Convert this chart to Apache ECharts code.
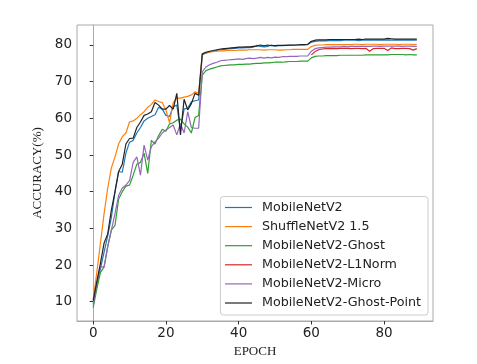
<!DOCTYPE html>
<html>
<head>
<meta charset="utf-8">
<script src="https://cdn.jsdelivr.net/npm/echarts@6/dist/echarts.min.js"></script>
<style>
	html, body { margin: 0; padding: 0; background: #fff; }
	#main { width: 477px; height: 364px; }
</style>
</head>
<body>
<div id="main"></div>
<script>
// accuracy per epoch (0..89)
const names = ['MobileNetV2', 'ShuffleNetV2 1.5', 'MobileNetV2-Ghost', 'MobileNetV2-L1Norm', 'MobileNetV2-Micro', 'MobileNetV2-Ghost-Point'];
const colors = ['#1f77b4', '#ff7f0e', '#2ca02c', '#d62728', '#9467bd', '#222222'];

const mobilenet = [
	9.5, 14.5, 19, 23.5, 28, 33, 40, 45.5, 45.3, 50.5,
	53.5, 54, 56, 57.5, 59.3, 60, 60.5, 61, 63, 62.5,
	60.8, 60.5, 63.2, 63.6, 57, 62.5, 62.8, 64.5, 64.8, 65,
	77.3, 77.8, 78.1, 78.3, 78.5, 78.7, 78.8, 78.9, 79, 79.1,
	79.2, 79.2, 79.3, 79.3, 79.4, 79.9, 79.6, 79.5, 79.6, 80,
	79.7, 79.8, 79.8, 79.9, 79.9, 79.9, 80, 80, 80, 80.1,
	80.8, 81, 81.1, 81.1, 81.1, 81.2, 81.2, 81.2, 81.2, 81.3,
	81.3, 81.3, 81.3, 81.2, 81.3, 81.3, 81.3, 81.3, 81.3, 81.3,
	81.3, 81.4, 81.3, 81.3, 81.3, 81.3, 81.3, 81.3, 81.3, 81.3
];
const shufflenet = [
	10.5, 18, 26, 34, 41, 46.5, 49.5, 53, 55, 56,
	59, 59.3, 60, 61, 61.8, 63, 63.8, 65, 64.6, 64.3,
	62.3, 58.8, 64.2, 65.6, 65.5, 65.8, 66, 66.4, 67.2, 66.8,
	77.6, 77.9, 78.1, 78.2, 78.3, 78.4, 78.4, 78.5, 78.5, 78.5,
	78.6, 78.6, 78.6, 78.7, 78.7, 78.7, 78.7, 78.6, 78.7, 78.7,
	78.7, 78.6, 78.6, 78.7, 78.7, 78.8, 78.8, 78.8, 78.8, 78.8,
	79.6, 79.9, 80, 80, 80.1, 80.1, 80.1, 80.1, 80.1, 80.1,
	80.1, 80.1, 80.2, 80.2, 80.1, 80.2, 80.2, 80.2, 80.2, 80.1,
	80.2, 80.2, 80.2, 80.2, 80.1, 80.2, 80.2, 80.2, 80.1, 80.2
];
const ghost = [
	8.4, 13.5, 18, 19.5, 25, 29.5, 30.8, 38, 40, 41.5,
	41.8, 44.5, 47.5, 48, 50.5, 45, 54, 53, 55.3, 57,
	56.5, 58.5, 58.8, 59.5, 59.8, 58.5, 57.6, 56, 60.2, 60.8,
	71.8, 73, 73.4, 73.7, 74, 74.3, 74.4, 74.5, 74.6, 74.6,
	74.7, 74.7, 74.8, 74.8, 74.9, 75, 75, 75.1, 75.1, 75.2,
	75.3, 75.3, 75.3, 75.4, 75.5, 75.5, 75.5, 75.6, 75.6, 75.6,
	76.5, 76.9, 77, 77, 77.1, 77.1, 77.1, 77.1, 77.2, 77.2,
	77.2, 77.2, 77.2, 77.2, 77.2, 77.3, 77.3, 77.3, 77.3, 77.3,
	77.3, 77.3, 77.4, 77.4, 77.4, 77.4, 77.3, 77.4, 77.3, 77.3
];
// L1Norm curve only starts at epoch 60
const l1normStart = 60;
const l1norm = [
	77.3, 78.2, 78.7, 78.9, 79, 79, 79.1, 79, 79.1, 79.1,
	79.1, 79, 79.1, 79.1, 79, 79.1, 78.3, 79, 79.1, 79.1,
	79.1, 78.5, 79.2, 79, 79, 79.1, 79.1, 79, 78.6, 79
];
const micro = [
	9, 15, 19.5, 19.5, 25, 29.5, 34, 39, 41, 41.8,
	43, 48, 49.5, 44.5, 52.7, 48.6, 52.3, 53.6, 54.6, 56,
	56.8, 57.5, 58.2, 55.5, 58.6, 56, 61.8, 57.5, 57.3, 57.3,
	72.7, 74, 74.6, 75, 75.3, 75.7, 75.8, 75.9, 76, 76.1,
	76.2, 76.1, 76.3, 76.4, 76.3, 76.4, 76.6, 76.4, 76.6, 76.5,
	76.7, 76.6, 76.8, 76.8, 76.9, 76.9, 76.9, 77, 77, 77,
	78.3, 79, 79.2, 79.3, 79.4, 79.4, 79.5, 79.5, 79.5, 79.6,
	79.5, 79.6, 79.6, 79.6, 79.6, 79.6, 79.6, 79.7, 79.7, 79.6,
	79.7, 79.7, 79.7, 79.7, 79.7, 79.6, 79.7, 79.7, 79.6, 79.6
];
const ghostPoint = [
	10.3, 15.5, 20.5, 26, 28.5, 35, 40, 45.5, 47.5, 53,
	54.5, 54.6, 57.5, 59, 60.8, 61.2, 61.8, 64.3, 63.6, 62.5,
	62.5, 63.5, 62.5, 66.8, 55.5, 65.2, 62.3, 64, 66.8, 66.3,
	77.6, 78, 78.3, 78.5, 78.7, 78.9, 79, 79.1, 79.2, 79.3,
	79.4, 79.4, 79.5, 79.5, 79.6, 79.7, 80, 79.8, 80, 79.8,
	79.8, 79.9, 79.9, 79.9, 80, 80, 80, 80.1, 80.1, 80.2,
	81, 81.3, 81.4, 81.4, 81.4, 81.5, 81.5, 81.5, 81.5, 81.5,
	81.5, 81.5, 81.5, 81.6, 81.5, 81.6, 81.6, 81.6, 81.6, 81.6,
	81.6, 81.8, 81.7, 81.6, 81.6, 81.6, 81.6, 81.6, 81.6, 81.6
];

const xTicks = [0, 20, 40, 60, 80];
const yTicks = [10, 20, 30, 40, 50, 60, 70, 80];

function pairs(values, start) {
	return values.map(function (v, i) {
		return [i + start, v];
	});
}

const seriesData = [
	pairs(mobilenet, 0),
	pairs(shufflenet, 0),
	pairs(ghost, 0),
	pairs(l1norm, l1normStart),
	pairs(micro, 0),
	pairs(ghostPoint, 0)
];

const myChart = echarts.init(document.getElementById('main'));

const tickFont = { fontFamily: 'DejaVu Sans', fontSize: 13.5, color: '#222' };
const nameFont = { fontFamily: 'Liberation Serif', fontSize: 13, color: '#222' };

option = {
	animation: false,
	backgroundColor: '#fff',
	grid: {
		left: 77,
		right: 44,
		top: 25,
		bottom: 43,
		show: true,
		borderColor: '#aaa',
		borderWidth: 1
	},
	xAxis: {
		type: 'value',
		min: -4.45,
		max: 93.45,
		name: 'EPOCH',
		nameLocation: 'middle',
		nameGap: 18,
		nameTextStyle: nameFont,
		splitLine: { show: false },
		axisLine: { show: true, lineStyle: { color: '#aaa' } },
		axisTick: { show: true, length: 3.5, customValues: xTicks, lineStyle: { color: '#333' } },
		axisLabel: Object.assign({ margin: 5, customValues: xTicks }, tickFont)
	},
	yAxis: {
		type: 'value',
		min: 4.74,
		max: 85.45,
		name: 'ACCURACY(%)',
		nameLocation: 'middle',
		nameGap: 23,
		nameTextStyle: nameFont,
		splitLine: { show: false },
		axisLine: { show: true, lineStyle: { color: '#aaa' } },
		axisTick: { show: true, length: 3.5, customValues: yTicks, lineStyle: { color: '#333' } },
		axisLabel: Object.assign({ margin: 5, customValues: yTicks }, tickFont)
	},
	legend: {
		orient: 'vertical',
		right: 49,
		bottom: 49,
		padding: [4, 7, 5, 4],
		itemWidth: 27,
		itemHeight: 14,
		itemGap: 5.1,
		itemStyle: { opacity: 0 },
		lineStyle: { width: 1.2 },
		backgroundColor: 'rgba(255,255,255,0.8)',
		borderColor: '#ccc',
		borderWidth: 1,
		borderRadius: 3,
		textStyle: {
			fontFamily: 'DejaVu Sans',
			fontSize: 12.7,
			lineHeight: 14,
			color: '#222',
			padding: [0, 0, 0, 5]
		},
		data: names
	},
	series: names.map(function (name, i) {
		return {
			name: name,
			type: 'line',
			data: seriesData[i],
			symbol: 'none',
			color: colors[i],
			lineStyle: { width: 1.2, color: colors[i] }
		};
	})
};

myChart.setOption(option);
</script>
</body>
</html>
